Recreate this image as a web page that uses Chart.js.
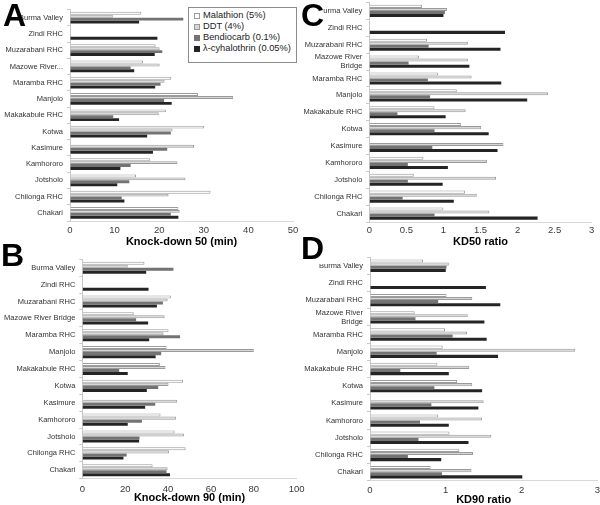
<!DOCTYPE html>
<html>
<head>
<meta charset="utf-8">
<script src="https://cdn.jsdelivr.net/npm/chart.js@4.4.0/dist/chart.umd.min.js"></script>
<style>
    body { margin: 0; background: #fff; width: 600px; height: 505px; position: relative; overflow: hidden; font-family: 'Liberation Sans', Arial, sans-serif; }
    canvas { position: absolute; }
    .letter { position: absolute; font-weight: bold; font-size: 32px; line-height: 32px; height: 32px; background: #fff; color: #000; white-space: nowrap; overflow: visible; }
    #legend { position: absolute; left: 188px; top: 7px; width: 107px; height: 54px; border: 1px solid #8c8c8c; background: #fff; font-size: 9.3px; color: #222; }
    #legend .row { position: absolute; left: 0; height: 11px; line-height: 11px; white-space: nowrap; }
    #legend .sw { position: absolute; left: 5px; top: 2.5px; width: 6px; height: 6px; box-sizing: border-box; }
    #legend .tx { position: absolute; left: 14px; top: 0; }
</style>
</head>
<body>
<canvas id="chartA" width="300" height="250" style="left:0;top:0"></canvas>
<canvas id="chartC" width="300" height="250" style="left:300px;top:0"></canvas>
<canvas id="chartB" width="310" height="255" style="left:0;top:250px"></canvas>
<canvas id="chartD" width="300" height="255" style="left:300px;top:250px"></canvas>
<div id="legend"></div>
<div class="letter" style="left:3px;top:-1px;width:18px">A</div>
<div class="letter" style="left:301px;top:-1px;width:22px">C</div>
<div class="letter" style="left:1px;top:239px;width:24px">B</div>
<div class="letter" style="left:301px;top:232px;width:24px">D</div>
<script>
// sites, top to bottom
const sites = ['Burma Valley', 'Zindi RHC', 'Muzarabani RHC', 'Mazowe River Bridge', 'Maramba RHC', 'Manjolo',
    'Makakabule RHC', 'Kotwa', 'Kasimure', 'Kamhororo', 'Jotsholo', 'Chilonga RHC', 'Chakari'];
const seriesNames = ['Malathion (5%)', 'DDT (4%)', 'Bendiocarb (0.1%)', '\u03bb-cyhalothrin (0.05%)'];

// knock-down 50 (min)
const mal50 = [16.0, null, 19.2, 16.4, 22.7, 28.7, 21.5, 30.1, null, 17.9, 14.8, 31.5, 24.3];
const ddt50 = [9.6, null, 20.1, 20.1, 21.2, 36.6, 19.9, 23.0, 27.8, 24.1, 25.9, 22.1, 24.6];
const ben50 = [25.4, null, 20.7, 13.6, 20.3, 21.1, 9.7, 22.6, 21.8, 13.6, 13.3, 11.6, 22.6];
const lam50 = [15.5, 19.6, 19.0, 14.4, 19.1, 22.8, 11.0, 17.3, 18.6, 11.3, 10.6, 12.2, 24.3];

// knock-down 90 (min)
const mal90 = [29.0, null, 41.3, 24.0, 40.2, 39.3, 36.2, 47.0, null, 36.5, 43.1, 48.2, 32.8];
const ddt90 = [21.2, null, 39.8, 38.4, 37.9, 80.0, 38.8, 40.2, 44.3, 43.8, 47.4, 40.4, 39.8];
const ben90 = [42.5, null, 37.6, 25.1, 45.6, 36.8, 17.2, 35.4, 34.0, 27.8, 26.7, 20.7, 39.3];
const lam90 = [29.8, 30.9, 34.8, 30.7, 31.2, 34.2, 21.2, 30.1, 29.3, 21.2, 26.5, 19.2, 40.9];

// KD50 ratio
const mal50r = [0.71, null, 0.78, 0.67, 0.93, 1.18, 0.88, 1.24, null, 0.73, 0.60, 1.29, 1.00];
const ddt50r = [1.05, null, 1.33, 1.33, 1.38, 2.41, 1.30, 1.51, 1.81, 1.59, 1.71, 1.45, 1.62];
const ben50r = [1.02, null, 0.80, 0.53, 0.79, 0.82, 0.38, 0.88, 0.85, 0.52, 0.52, 0.45, 0.88];
const lam50r = [1.00, 1.83, 1.77, 1.35, 1.78, 2.13, 1.03, 1.61, 1.73, 1.06, 0.99, 1.14, 2.27];

// KD90 ratio
const mal90r = [0.70, null, 1.01, 0.59, 0.99, 0.96, 0.89, 1.15, null, 0.90, 1.05, 1.18, 0.80];
const ddt90r = [1.04, null, 1.35, 1.29, 1.28, 2.71, 1.31, 1.35, 1.50, 1.48, 1.60, 1.36, 1.34];
const ben90r = [1.01, null, 0.90, 0.60, 1.09, 0.88, 0.40, 0.85, 0.81, 0.66, 0.64, 0.50, 0.95];
const lam90r = [1.00, 1.53, 1.72, 1.51, 1.54, 1.69, 1.04, 1.48, 1.43, 1.04, 1.30, 0.94, 2.01];

const fillColors = ['#ffffff', '#d6d6d6', '#737373', '#242424'];
const edgeColors = ['#9c9c9c', '#9a9a9a', '#737373', '#242424'];

Chart.defaults.font.family = "'Liberation Sans', Arial, sans-serif";

// label variants used by the different panels
const labelsA = sites.map(s => s === 'Mazowe River Bridge' ? 'Mazowe River...' : s);
const labelsB = sites.slice();
const labelsCD = sites.map(s => s === 'Mazowe River Bridge' ? ['Mazowe River', 'Bridge'] : s);

function makePanel(id, labels, series, o) {
    const datasets = series.map((vals, i) => ({
        label: seriesNames[i],
        data: vals,
        backgroundColor: fillColors[i],
        borderColor: edgeColors[i],
        borderWidth: i < 2 ? 1 : 0,
        categoryPercentage: 0.72,
        barPercentage: 1
    }));
    return new Chart(document.getElementById(id), {
        type: 'bar',
        data: { labels: labels, datasets: datasets },
        options: {
            indexAxis: 'y',
            responsive: false,
            animation: false,
            devicePixelRatio: 1,
            layout: { padding: o.pad },
            plugins: { legend: { display: false }, tooltip: { enabled: false } },
            scales: {
                x: {
                    min: 0,
                    max: o.max,
                    ticks: {
                        stepSize: o.step, padding: o.tickPad, color: '#3a3a3a', font: { size: 9.5 },
                        callback: v => String(+v.toFixed(2))
                    },
                    grid: { drawOnChartArea: false, drawTicks: false },
                    border: { color: '#d9d9d9' },
                    title: {
                        display: true, text: o.title, color: '#000',
                        font: { size: 11, weight: 'bold', lineHeight: o.titleLh || 1.2 },
                        padding: { top: 0, bottom: o.titlePad }
                    },
                    afterFit: s => { s.height = o.xh; s.paddingLeft = 0; s.paddingRight = 0; }
                },
                y: {
                    ticks: { autoSkip: false, padding: 4, color: '#333', font: { size: 7.5 } },
                    grid: { drawOnChartArea: false, drawTicks: true, tickLength: 3, color: '#c8c8c8' },
                    border: { color: '#c8c8c8' },
                    afterFit: s => { s.width = o.yw; s.paddingTop = 0; s.paddingBottom = 0; }
                }
            }
        }
    });
}

makePanel('chartA', labelsA, [mal50, ddt50, ben50, lam50], {
    max: 50, step: 10, title: 'Knock-down 50 (min)',
    pad: { top: 9.5, right: 7, left: 0, bottom: 0 }, yw: 70, xh: 29, tickPad: 4, titlePad: 1.4
});
makePanel('chartC', labelsCD, [mal50r, ddt50r, ben50r, lam50r], {
    max: 3, step: 0.5, title: 'KD50 ratio',
    pad: { top: 2.5, right: 8.3, left: 0, bottom: 0 }, yw: 69.3, xh: 28, tickPad: 3, titlePad: 1.9
});
makePanel('chartB', labelsB, [mal90, ddt90, ben90, lam90], {
    max: 100, step: 20, title: 'Knock-down 90 (min)',
    pad: { top: 9.3, right: 13.3, left: 0, bottom: 0 }, yw: 82.3, xh: 26.3, tickPad: 5, titlePad: 0.4
});
makePanel('chartD', labelsCD, [mal90r, ddt90r, ben90r, lam90r], {
    max: 3, step: 1, title: 'KD90 ratio',
    pad: { top: 7.1, right: 2.7, left: 0, bottom: 0 }, yw: 70, xh: 24.2, tickPad: 4, titlePad: 0, titleLh: 1
});

// legend box drawn in panel A
const legend = document.getElementById('legend');
seriesNames.forEach((name, i) => {
    const row = document.createElement('div');
    row.className = 'row';
    row.style.top = (2 + i * 11) + 'px';
    row.innerHTML = '<span class="sw" style="background:' + fillColors[i] + ';border:1px solid ' + edgeColors[i] + '"></span>' +
        '<span class="tx">' + name + '</span>';
    legend.appendChild(row);
});
</script>
</body>
</html>
